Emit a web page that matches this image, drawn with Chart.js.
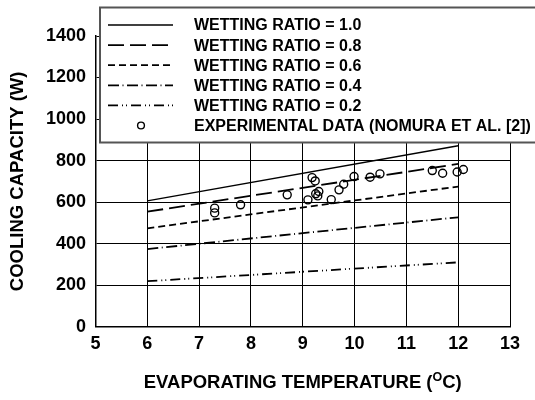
<!DOCTYPE html>
<html>
<head>
<meta charset="utf-8">
<title>Cooling capacity vs evaporating temperature</title>
<style>
  html, body { margin: 0; padding: 0; background: #fff; }
  #wrap { width: 535px; height: 400px; }
</style>
</head>
<body>
<div id="wrap"><canvas id="capChart" width="535" height="400"></canvas></div>
<script src="https://cdn.jsdelivr.net/npm/chart.js"></script>
<script>
  // model curves: evaporating temperature (oC) end points
  const lineTemps = [6, 12];
  const wr10 = [606, 871];
  const wr08 = [554, 784];
  const wr06 = [474, 675];
  const wr04 = [374, 527];
  const wr02 = [219, 310];

  // measured data (Nomura et al.)
  const expTemps = [7.3, 7.3, 7.8, 8.7, 9.1, 9.18, 9.24, 9.25, 9.29, 9.31, 9.55, 9.7, 9.79, 9.99, 10.3, 10.49, 11.5, 11.7, 11.98, 12.1];
  const expCap = [571, 548, 587, 635, 611, 718, 702, 640, 630, 651, 612, 659, 686, 723, 720, 736, 752, 739, 745, 757];

  const xTickValues = [5, 6, 7, 8, 9, 10, 11, 12, 13];
  const yTickValues = [0, 200, 400, 600, 800, 1000, 1200, 1400];

  const FONT = "'Liberation Sans', Arial, sans-serif";

  const pts = (xs, ys) => xs.map((x, i) => ({ x: x, y: ys[i] }));

  function curve(label, ys, dash) {
    return {
      label: label,
      data: pts(lineTemps, ys),
      showLine: true,
      borderColor: '#000',
      borderWidth: dash.length ? 1.8 : 1.5,
      borderDash: dash,
      pointRadius: 0,
      fill: false
    };
  }

  // boxed legend drawn over the top of the plot
  const boxLegend = {
    id: 'boxLegend',
    afterDraw(chart) {
      const ctx = chart.ctx;
      ctx.save();
      ctx.fillStyle = '#fff';
      ctx.fillRect(100, 7.5, 450, 135);
      ctx.strokeStyle = '#555';
      ctx.lineWidth = 2;
      ctx.strokeRect(100, 7.5, 450, 135);
      ctx.font = 'bold 16px ' + FONT;
      ctx.textBaseline = 'middle';
      ctx.textAlign = 'left';
      chart.data.datasets.forEach((ds, i) => {
        const y = 25 + i * 20.1;
        ctx.strokeStyle = '#000';
        if (ds.showLine) {
          ctx.lineWidth = ds.borderWidth;
          ctx.setLineDash(ds.borderDash || []);
          ctx.beginPath();
          ctx.moveTo(108, y);
          ctx.lineTo(173, y);
          ctx.stroke();
          ctx.setLineDash([]);
        } else {
          ctx.lineWidth = ds.pointBorderWidth;
          ctx.beginPath();
          ctx.arc(141, y, 3.4, 0, Math.PI * 2);
          ctx.stroke();
        }
        ctx.fillStyle = '#000';
        ctx.fillText(ds.label, 194, y + 1);
      });
      ctx.restore();
    }
  };

  // x axis title with superscript O
  const xTitle = {
    id: 'xTitle',
    afterDraw(chart) {
      const ctx = chart.ctx;
      const a = 'EVAPORATING TEMPERATURE (';
      const sup = 'O';
      const b = 'C)';
      ctx.save();
      ctx.fillStyle = '#000';
      ctx.textBaseline = 'alphabetic';
      ctx.textAlign = 'left';
      const big = 'bold 18.5px ' + FONT;
      const small = 'bold 12.5px ' + FONT;
      ctx.font = big;
      const wa = ctx.measureText(a).width;
      const wb = ctx.measureText(b).width;
      ctx.font = small;
      const ws = ctx.measureText(sup).width;
      const cx = (chart.chartArea.left + chart.chartArea.right) / 2;
      let x = cx - (wa + ws + wb) / 2;
      const y = 388;
      ctx.font = big;
      ctx.fillText(a, x, y);
      x += wa;
      ctx.font = small;
      ctx.fillText(sup, x, y - 7);
      x += ws;
      ctx.font = big;
      ctx.fillText(b, x, y);
      ctx.restore();
    }
  };

  const tickFont = { family: FONT, size: 18, weight: 'bold' };
  const plain = v => String(v);

  new Chart(document.getElementById('capChart'), {
    type: 'scatter',
    data: {
      datasets: [
        curve('WETTING RATIO = 1.0', wr10, []),
        curve('WETTING RATIO = 0.8', wr08, [16, 6]),
        curve('WETTING RATIO = 0.6', wr06, [7, 4]),
        curve('WETTING RATIO = 0.4', wr04, [11, 3.5, 1, 3.5]),
        curve('WETTING RATIO = 0.2', wr02, [10, 4, 1, 3, 1, 4]),
        {
          label: 'EXPERIMENTAL DATA (NOMURA ET AL. [2])',
          data: pts(expTemps, expCap),
          showLine: false,
          pointStyle: 'circle',
          pointRadius: 4,
          pointBorderWidth: 1.4,
          pointBorderColor: '#000',
          pointBackgroundColor: 'rgba(0,0,0,0)'
        }
      ]
    },
    options: {
      responsive: false,
      animation: false,
      devicePixelRatio: 1,
      layout: { padding: { top: 36, right: 25, left: 0, bottom: 0 } },
      plugins: { legend: { display: false }, tooltip: { enabled: false } },
      scales: {
        x: {
          type: 'linear',
          min: 5,
          max: 13,
          afterBuildTicks: s => { s.ticks = xTickValues.map(v => ({ value: v })); },
          afterFit: s => { s.height = 73.3; },
          grid: { color: '#000', lineWidth: 1, drawTicks: false },
          border: { color: '#000', width: 1.5 },
          ticks: { color: '#000', font: tickFont, padding: 7, maxRotation: 0, callback: plain }
        },
        y: {
          type: 'linear',
          min: 0,
          max: 1400,
          afterBuildTicks: s => { s.ticks = yTickValues.map(v => ({ value: v })); },
          afterFit: s => { s.width = 95.5; },
          grid: { color: '#000', lineWidth: 1, drawTicks: false },
          border: { color: '#000', width: 1.5 },
          ticks: { color: '#000', font: tickFont, padding: 9.5, callback: plain },
          title: {
            display: true,
            text: 'COOLING CAPACITY (W)',
            color: '#000',
            font: { family: FONT, size: 18.5, weight: 'bold' },
            padding: { top: 7, bottom: 0 }
          }
        }
      }
    },
    plugins: [boxLegend, xTitle]
  });
</script>
</body>
</html>
